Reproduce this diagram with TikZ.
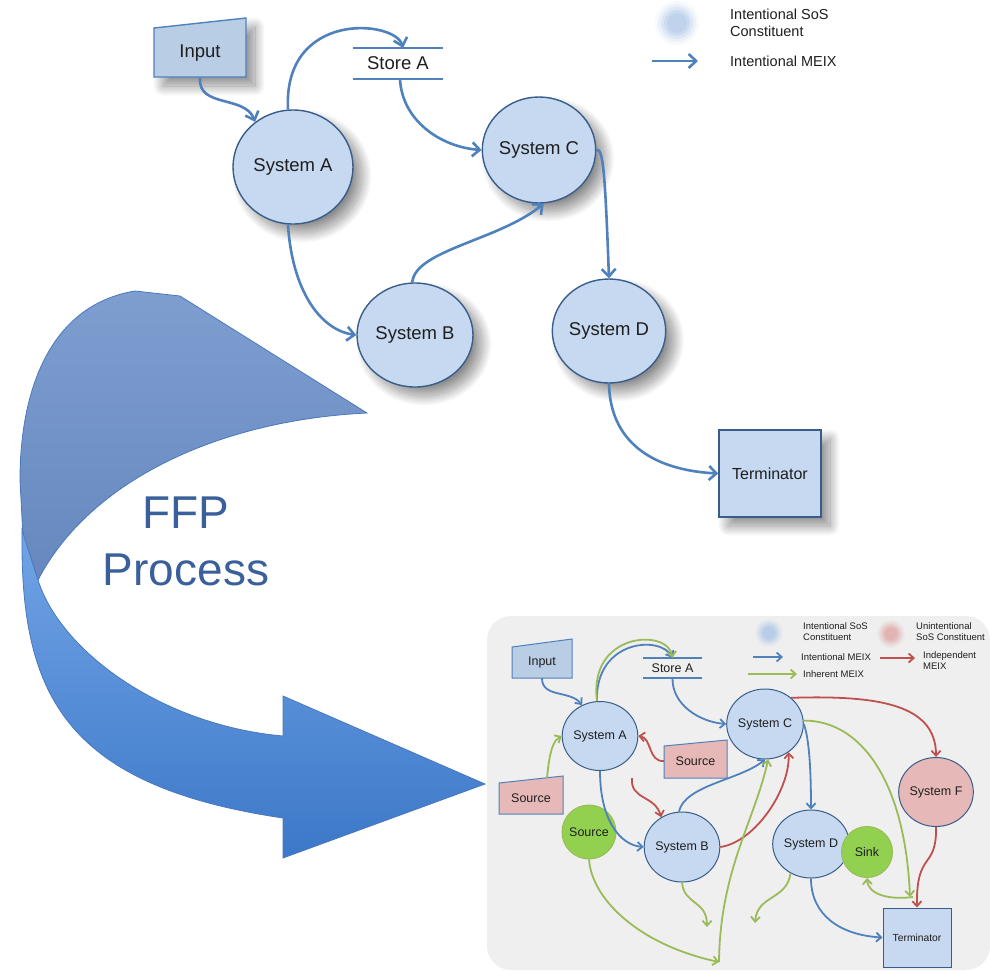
\documentclass[tikz,border=0pt]{standalone}
\usepackage{fontspec}
\setmainfont{Liberation Sans}
\usetikzlibrary{arrows.meta,shapes.geometric,shadows.blur}

\definecolor{sysfill}{RGB}{198,217,241}
\definecolor{inputfill}{RGB}{185,205,229}
\definecolor{sysline}{RGB}{56,93,138}
\definecolor{flowblue}{RGB}{79,129,189}
\definecolor{flowred}{RGB}{192,80,77}
\definecolor{flowgreen}{RGB}{155,187,89}
\definecolor{uninfill}{RGB}{230,185,184}
\definecolor{greenfill}{RGB}{146,208,80}
\definecolor{panelgray}{RGB}{239,239,239}
\definecolor{ffptext}{RGB}{58,96,155}
\definecolor{ribbonbackA}{RGB}{126,158,208}
\definecolor{ribbonbackB}{RGB}{102,136,190}
\definecolor{ribbonfrontA}{RGB}{114,164,230}
\definecolor{ribbonfrontB}{RGB}{60,120,200}
\definecolor{ribbonedge}{RGB}{74,120,190}
\definecolor{labeltext}{RGB}{30,30,30}

\tikzset{
  softshadow/.style={blur shadow={shadow xshift=9pt, shadow yshift=-9pt,
      shadow blur radius=10pt, shadow blur steps=30, shadow opacity=45}},
  bigsys/.style={ellipse, draw=sysline, line width=1.4pt, fill=sysfill,
      inner sep=0pt, text=labeltext, font=\fontsize{18.5}{22}\selectfont, softshadow},
  bigtext/.style={inner sep=0pt, text=labeltext, font=\fontsize{18.5}{22}\selectfont},
  bigflow/.style={draw=flowblue, line width=2.6pt,
      -{Straight Barb[length=7.5pt,width=14pt]}},
  smallsys/.style={ellipse, draw=sysline, line width=1pt, fill=sysfill,
      inner sep=0pt, text=labeltext, font=\fontsize{12.5}{15}\selectfont},
  greennode/.style={circle, draw=flowgreen, line width=1pt, fill=greenfill,
      inner sep=0pt, text=labeltext, font=\fontsize{12.5}{15}\selectfont},
  smalltext/.style={inner sep=0pt, text=labeltext, font=\fontsize{12.5}{15}\selectfont},
  legendtext/.style={inner sep=0pt, text=labeltext, anchor=west, align=left,
      font=\fontsize{9.5}{11}\selectfont},
  toplegend/.style={inner sep=0pt, text=labeltext, anchor=west, align=left,
      font=\fontsize{14.5}{17}\selectfont},
  smallflow/.style={line width=1.8pt, -{Straight Barb[length=5pt,width=9pt]}},
  blueflow/.style={smallflow, draw=flowblue},
  redflow/.style={smallflow, draw=flowred},
  greenflow/.style={smallflow, draw=flowgreen},
}

\begin{document}
\begin{tikzpicture}[x=1pt,y=-1pt]
\useasboundingbox (0,0) rectangle (990,970);

% ---------------- upper data flow diagram ----------------
% legend
\foreach \r/\o in {22/0.10,19/0.16,16/0.24,13/0.34,10/0.45}
  \fill[sysfill!80!flowblue, opacity=\o] (677,23) circle (\r);
\node[toplegend] (lgA) at (730,23) {Intentional SoS\\Constituent};
\coordinate (lgArrS) at (652,61);
\coordinate (lgArrE) at (698,61);
\draw[bigflow] (lgArrS) -- (lgArrE);
\node[toplegend] (lgB) at (730,61) {Intentional MEIX};

% input (manual input shape)
\filldraw[fill=inputfill, draw=flowblue, line width=1.4pt, softshadow]
  (154,28) -- (246,18) -- (246,77) -- (154,77) -- cycle;
\node[bigtext, minimum width=92pt, minimum height=50pt] (I) at (200,53) {Input};

% data store
\node[bigtext, minimum width=90pt, minimum height=31pt] (S) at (398,63.5) {Store A};
\draw[flowblue, line width=2.4pt] (S.north west) -- (S.north east);
\draw[flowblue, line width=2.4pt] (S.south west) -- (S.south east);

% processes
\node[bigsys, minimum width=120pt, minimum height=114pt] (A) at (293,167) {System A};
\node[bigsys, minimum width=112pt, minimum height=106pt] (C) at (539,150) {System C};
\node[bigsys, minimum width=116pt, minimum height=104pt] (B) at (415,335) {System B};
\node[bigsys, minimum width=112pt, minimum height=104pt] (D) at (609,331) {System D};
\node[rectangle, draw=sysline, line width=1.4pt, fill=sysfill, softshadow,
      minimum width=102pt, minimum height=87pt, inner sep=0pt, text=labeltext,
      font=\fontsize{16}{19}\selectfont] (T) at (770,473.5) {Terminator};

% flows
\draw[bigflow] (I.south) .. controls (198,108) and (245,95) .. (A.130);
\draw[bigflow] (A.95) .. controls (283,10) and (395,20) .. ([xshift=5pt]S.north);
\draw[bigflow] ([xshift=2pt]S.south) .. controls (402,120) and (440,147) .. (C.west);
\draw[bigflow] (A.265) .. controls (292,290) and (320,330) .. (B.west);
\draw[bigflow] (B.93) .. controls (415,250) and (500,240) .. (C.275);
\draw[bigflow] (C.east) .. controls (603,148) and (605,170) .. (D.north);
\draw[bigflow] (D.south) .. controls (610,440) and (650,470) .. (T.west);

% ---------------- FFP process ribbon arrow ----------------
\path[top color=ribbonbackA, bottom color=ribbonbackB, draw=ribbonedge, line width=0.8pt]
  (367,413) -- (180,296) -- (135,291)
  .. controls (50,305) and (20,390) .. (20,480)
  -- (24,556) -- (38,580)
  .. controls (90,480) and (220,420) .. (367,413) -- cycle;
\path[top color=ribbonfrontA, bottom color=ribbonfrontB, draw=ribbonedge, line width=0.8pt]
  (22,530) .. controls (20,690) and (60,785) .. (283,818)
  -- (283,858) -- (485,784) -- (283,696) -- (283,736)
  .. controls (160,725) and (60,650) .. (38,580) -- cycle;
\node[inner sep=0pt, anchor=base, text=ffptext, font=\fontsize{46}{55}\selectfont]
  (ffpA) at (186,528) {FFP};
\node[inner sep=0pt, anchor=base, text=ffptext, font=\fontsize{46}{55}\selectfont]
  (ffpB) at (186,585) {Process};

% ---------------- extended diagram panel ----------------
\fill[panelgray, rounded corners=24pt] (487,616) rectangle (990,970);

% legend
\foreach \r/\o in {14/0.10,12/0.18,10/0.28,8/0.4,6/0.5} {
  \fill[sysfill!80!flowblue, opacity=\o] (769,633) circle (\r);
  \fill[uninfill!85!flowred, opacity=\o] (891,634) circle (\r);
}
\node[legendtext] (lgC) at (803,632) {Intentional SoS\\Constituent};
\node[legendtext] (lgD) at (916,632) {Unintentional\\SoS Constituent};
\coordinate (lgBlueS) at (753,657);  \coordinate (lgBlueE) at (783,657);
\coordinate (lgRedS) at (880,658);   \coordinate (lgRedE) at (915,658);
\coordinate (lgGreenS) at (748,674); \coordinate (lgGreenE) at (797,674);
\draw[blueflow] (lgBlueS) -- (lgBlueE);
\draw[redflow] (lgRedS) -- (lgRedE);
\draw[greenflow] (lgGreenS) -- (lgGreenE);
\node[legendtext] (lgE) at (801,657) {Intentional MEIX};
\node[legendtext] (lgF) at (923,661) {Independent\\MEIX};
\node[legendtext] (lgG) at (803,674) {Inherent MEIX};

% input, store and sources
\filldraw[fill=inputfill, draw=flowblue, line width=1pt]
  (512,647) -- (572,639) -- (572,678) -- (512,678) -- cycle;
\node[smalltext, minimum width=60pt, minimum height=32pt] (iI) at (542,662) {Input};
\node[smalltext, minimum width=59pt, minimum height=20pt] (iS) at (672.5,668) {Store A};
\draw[flowblue, line width=1.6pt] (iS.north west) -- (iS.north east);
\draw[flowblue, line width=1.6pt] (iS.south west) -- (iS.south east);
\filldraw[fill=uninfill, draw=flowblue, line width=1pt]
  (664,746) -- (727,740) -- (727,778) -- (664,778) -- cycle;
\node[smalltext, minimum width=63pt, minimum height=32pt] (src1) at (695.5,761) {Source};
\filldraw[fill=uninfill, draw=flowblue, line width=1pt]
  (499,783) -- (563,776) -- (563,814) -- (499,814) -- cycle;
\node[smalltext, minimum width=64pt, minimum height=32pt] (src2) at (531,798) {Source};
\coordinate (src2top) at (547,778);

% processes and terminals
\node[smallsys, minimum width=74pt, minimum height=69pt] (iA) at (600,736) {System A};
\node[smallsys, minimum width=74pt, minimum height=70pt] (iC) at (765,724) {System C};
\node[smallsys, minimum width=74pt, minimum height=70pt] (iB) at (682,847) {System B};
\node[smallsys, minimum width=75pt, minimum height=68pt] (iD) at (811,844) {System D};
\node[smallsys, fill=uninfill, minimum width=74pt, minimum height=69pt] (iF) at (936,792) {System F};
\node[greennode, minimum size=51pt] (sink) at (867,852) {Sink};
\node[greennode, minimum size=54pt] (gsrc) at (589,832) {Source};
\node[rectangle, draw=sysline, line width=1pt, fill=sysfill, minimum width=68pt,
      minimum height=59pt, inner sep=0pt, text=labeltext,
      font=\fontsize{10.3}{12}\selectfont] (iT) at (917,937.5) {Terminator};

% free ends of flows
\coordinate (redIn) at (632,778);
\coordinate (gJoin) at (719,962);
\coordinate (gOutB) at (707,927);
\coordinate (gOutD) at (755,923);
\coordinate (gTerm) at (910,897);
\coordinate (gBack) at (913,897);

% intentional flows
\draw[blueflow] (iI.south) .. controls (542,698) and (570,690) .. (iA.120);
\draw[blueflow] (iA.95) .. controls (595,640) and (660,635) .. (iS.north);
\draw[blueflow] (iS.south) .. controls (672,705) and (700,722) .. (iC.west);
\draw[blueflow] (iA.south) .. controls (600,820) and (620,845) .. (iB.west);
\draw[blueflow] (iB.95) .. controls (685,785) and (740,780) .. (iC.south);
\draw[blueflow] (iC.east) .. controls (808,735) and (811,760) .. (iD.north);
\draw[blueflow] (iD.south) .. controls (811,915) and (840,935) .. (iT.west);

% independent flows
\draw[redflow] (iC.45) .. controls (880,695) and (936,705) .. (iF.north);
\draw[redflow] (src1.west) .. controls (648,762) and (652,738) .. (iA.east);
\draw[redflow] (redIn) .. controls (630,800) and (655,795) .. (iB.125);
\draw[redflow] (iB.east) .. controls (755,842) and (790,790) .. (iC.310);
\draw[redflow] (iF.south) .. controls (937,870) and (916,850) .. (iT.north);

% inherent flows
\draw[greenflow] ([xshift=-3pt]iA.north) .. controls (588,632) and (668,628) .. (iS.north);
\draw[greenflow] (src2top) .. controls (550,745) and (555,740) .. (iA.west);
\draw[greenflow] (gsrc.south) .. controls (592,900) and (640,945) .. (gJoin);
\draw[greenflow] (gJoin) .. controls (720,870) and (755,820) .. (iC.275);
\draw[greenflow] (iB.south) .. controls (684,905) and (707,900) .. (gOutB);
\draw[greenflow] (iD.235) .. controls (787,900) and (757,895) .. (gOutD);
\draw[greenflow] (iC.5) .. controls (860,720) and (905,780) .. (gTerm);
\draw[greenflow] (gBack) .. controls (890,900) and (868,895) .. (sink.south);
\end{tikzpicture}
\end{document}
